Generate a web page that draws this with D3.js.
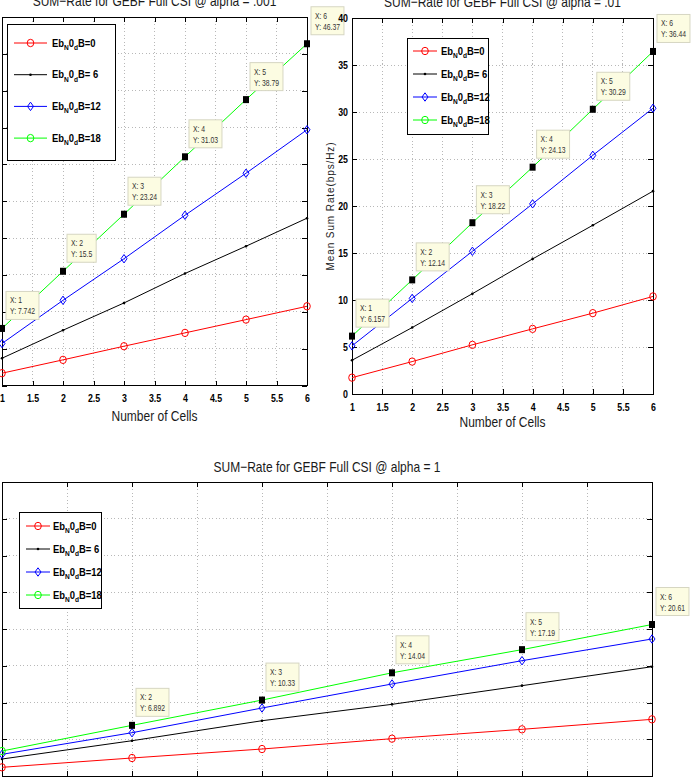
<!DOCTYPE html>
<html>
<head>
<meta charset="utf-8">
<script src="https://cdn.jsdelivr.net/npm/d3@7"></script>
<style>
  body{margin:0;background:#fff;}
  svg{display:block;}
  text{font-family:'Liberation Sans',Arial,sans-serif;}
  .grid{stroke:#b8b8b8;stroke-width:1;stroke-dasharray:1,2.5;shape-rendering:crispEdges;}
  .ax .domain{display:none;}
  .ax line{stroke:#000;shape-rendering:crispEdges;}
  .ax text{font-family:'Liberation Sans',Arial,sans-serif;font-weight:bold;font-size:11px;fill:#000;}
</style>
</head>
<body>
<svg id="fig" width="692" height="777"></svg>
<script>
/* ----- data ---------------------------------------------------- */
const cells   = [1,2,3,4,5,6];
const ebLabel = ['B=0','B= 6','B=12','B=18'];   // tail of "Eb_N0_dB=.."

// alpha = .001
const a001_0  = [1.67, 3.48, 5.33, 7.14, 8.94, 10.75];
const a001_6  = [3.70, 7.50, 11.2, 15.2, 18.9, 22.7];
const a001_12 = [5.70, 11.56, 17.2, 23.1, 28.8, 34.7];
const a001_18 = [7.742, 15.5, 23.24, 31.03, 38.79, 46.37];

// alpha = .01
const a01_0   = [1.74, 3.45, 5.23, 6.93, 8.60, 10.38];
const a01_6   = [3.59, 7.07, 10.67, 14.37, 17.95, 21.58];
const a01_12  = [5.12, 10.17, 15.18, 20.23, 25.39, 30.40];
const a01_18  = [6.157, 12.14, 18.22, 24.13, 30.29, 36.44];

// alpha = 1
const a1_0    = [1.18, 2.45, 3.67, 5.08, 6.35, 7.71];
const a1_6    = [2.31, 4.80, 7.52, 9.75, 12.29, 14.87];
const a1_12   = [2.95, 5.89, 9.25, 12.52, 15.69, 18.64];
const a1_18   = [3.40, 6.892, 10.33, 14.04, 17.19, 20.61];

// which points of the Eb=18 curve carry a data tip
const tips001 = [1,2,3,4,5,6];
const tips01  = [1,2,3,4,5,6];
const tips1   = [2,3,4,5,6];

/* ----- styles -------------------------------------------------- */
const colours = ['#ff0000','#000000','#0000ff','#00ff00'];
const marks   = ['circle','dot','diamond','circle'];
const NARROW  = 0.8;   // squeeze Liberation Sans into a narrow face

const svg = d3.select('#fig');

function condense(sel, f=NARROW){
  sel.each(function(){
    const L = this.getComputedTextLength();
    if(L>0){
      this.setAttribute('textLength', L*f);
      this.setAttribute('lengthAdjust','spacingAndGlyphs');
    }
  });
  return sel;
}

function marker(sel, kind, col){
  if(kind==='circle')
    sel.append('ellipse').attr('rx',3.3).attr('ry',3.7)
       .attr('fill','none').attr('stroke',col).attr('stroke-width',1);
  else if(kind==='dot')
    sel.append('circle').attr('r',1.3).attr('fill',col);
  else
    sel.append('path').attr('d','M0,-4.2L3,0L0,4.2L-3,0Z')
       .attr('fill','none').attr('stroke',col).attr('stroke-width',1);
}

function legendText(t, tail){
  t.append('tspan').text('Eb');
  t.append('tspan').attr('dy',3.5).attr('font-size','8px').text('N');
  t.append('tspan').attr('dy',-3.5).text('0');
  t.append('tspan').attr('dy',3.5).attr('font-size','8px').text('d');
  t.append('tspan').attr('dy',-3.5).text(tail);
}

/* ----- one subplot --------------------------------------------- */
function panel(p){
  const g = svg.append('g');
  const x = d3.scaleLinear().domain([1,6]).range([p.left,p.right]);
  const y = d3.scaleLinear().domain([0,p.ymax]).range([p.bottom,p.top]);
  const xt = d3.range(1,6.01,0.5),
        yt = d3.range(0,p.ymax+0.1,5);

  g.append('rect').attr('x',p.left).attr('y',p.top)
   .attr('width',p.right-p.left).attr('height',p.bottom-p.top).attr('fill','#fff');

  /* grid */
  g.append('g').selectAll('line').data(xt.slice(1,-1)).join('line')
   .attr('class','grid').attr('x1',x).attr('x2',x).attr('y1',p.top).attr('y2',p.bottom);
  g.append('g').selectAll('line').data(yt.slice(1,-1)).join('line')
   .attr('class','grid').attr('y1',y).attr('y2',y).attr('x1',p.left).attr('x2',p.right);

  /* axes, ticks inward on all four sides */
  const fmt = d3.format('~g');
  const xb = g.append('g').attr('class','ax').attr('transform',`translate(0,${p.bottom})`)
   .call(d3.axisBottom(x).tickValues(xt).tickSize(-5).tickPadding(9).tickFormat(fmt));
  g.append('g').attr('class','ax').attr('transform',`translate(0,${p.top})`)
   .call(d3.axisTop(x).tickValues(xt).tickSize(-5).tickFormat(''));
  const yl = g.append('g').attr('class','ax').attr('transform',`translate(${p.left},0)`)
   .call(d3.axisLeft(y).tickValues(yt).tickSize(-5).tickPadding(4).tickFormat(fmt));
  g.append('g').attr('class','ax').attr('transform',`translate(${p.right},0)`)
   .call(d3.axisRight(y).tickValues(yt).tickSize(-5).tickFormat(''));
  condense(xb.selectAll('text'));
  condense(yl.selectAll('text'));

  g.append('rect').attr('x',p.left).attr('y',p.top)
   .attr('width',p.right-p.left).attr('height',p.bottom-p.top)
   .attr('fill','none').attr('stroke','#000').attr('shape-rendering','crispEdges');

  /* labels */
  condense(g.append('text').attr('x',(p.left+p.right)/2).attr('y',p.titleY)
   .attr('text-anchor','middle').attr('font-size','15px').attr('fill','#1a1a1a').text(p.title));
  condense(g.append('text').attr('x',(p.left+p.right)/2).attr('y',p.bottom+p.xlabOff)
   .attr('text-anchor','middle').attr('font-size','15px').attr('fill','#1a1a1a').text('Number of Cells'));
  if(p.ylabel){
    const cy = (p.top+p.bottom)/2;
    g.append('text').attr('transform',`translate(${p.left-18},${cy}) rotate(-90)`)
     .attr('text-anchor','middle')
     .attr('font-size','10px').attr('letter-spacing','0.9px').attr('fill','#222').text(p.ylabel);
  }

  /* curves */
  const line = d3.line().x((d,i)=>x(cells[i])).y(d=>y(d));
  p.series.forEach((s,k)=>{
    g.append('path').datum(s).attr('d',line)
     .attr('fill','none').attr('stroke',colours[k]).attr('stroke-width',1);
    s.forEach((v,i)=>{
      if(k===3 && p.tips.includes(cells[i])) return;
      marker(g.append('g').attr('transform',`translate(${x(cells[i])},${y(v)})`), marks[k], colours[k]);
    });
  });

  /* legend */
  const L = p.legend;
  const lg = g.append('g').attr('transform',`translate(${L.x},${L.y})`);
  lg.append('rect').attr('width',L.w).attr('height',L.h).attr('fill','#fff')
    .attr('stroke','#000').attr('shape-rendering','crispEdges');
  ebLabel.forEach((lab,k)=>{
    const ry = L.first + k*L.gap;
    lg.append('line').attr('x1',L.l0).attr('x2',L.l1).attr('y1',ry).attr('y2',ry)
      .attr('stroke',colours[k]);
    marker(lg.append('g').attr('transform',`translate(${(L.l0+L.l1)/2},${ry})`), marks[k], colours[k]);
    const t = lg.append('text').attr('x',L.tx).attr('y',ry+3.5)
      .attr('font-size','11.5px').attr('font-weight','bold').attr('fill','#000');
    legendText(t, lab);
    condense(t, 0.82);
  });

  /* data tips */
  const s18 = p.series[3];
  p.tips.forEach(c=>{
    const i = cells.indexOf(c), px = x(c), py = y(s18[i]);
    const tg = g.append('g');
    const top = py - 9 - 28, left = px + 4;
    const box = tg.append('rect').attr('x',left).attr('y',top).attr('height',28)
      .attr('fill','#fcfce2').attr('stroke','#d6d6c2');
    const t1 = tg.append('text').attr('x',left+4).attr('y',top+12)
      .attr('font-size','8.5px').attr('fill','#333').text('X: '+c);
    const t2 = tg.append('text').attr('x',left+4).attr('y',top+23)
      .attr('font-size','8.5px').attr('fill','#333').text('Y: '+s18[i]);
    const w = Math.max(t1.node().getComputedTextLength(), t2.node().getComputedTextLength())*NARROW;
    condense(t1); condense(t2);
    box.attr('width', w+8);
    tg.append('rect').attr('x',px-3).attr('y',py-3.5).attr('width',6).attr('height',7).attr('fill','#000');
  });
}

panel({left:2, right:307, top:17, bottom:385.5, ymax:50,
       title:'SUM\u2212Rate for GEBF Full CSI @ alpha = .001', titleY:6, xlabOff:35,
       series:[a001_0,a001_6,a001_12,a001_18], tips:tips001,
       legend:{x:7,y:24,w:108,h:136,first:19,gap:31.7,l0:7,l1:40,tx:45}});

panel({left:352, right:653, top:18, bottom:394, ymax:40,
       title:'SUM\u2212Rate for GEBF Full CSI @ alpha = .01', titleY:7, xlabOff:33,
       ylabel:'Mean Sum Rate(bps/Hz)',
       series:[a01_0,a01_6,a01_12,a01_18], tips:tips01,
       legend:{x:407,y:38,w:81,h:96,first:13,gap:23,l0:6,l1:30,tx:34}});

panel({left:2, right:652, top:482, bottom:776, ymax:40,
       title:'SUM\u2212Rate for GEBF Full CSI @ alpha = 1', titleY:472, xlabOff:35,
       series:[a1_0,a1_6,a1_12,a1_18], tips:tips1,
       legend:{x:19,y:512,w:82,h:96,first:14,gap:23,l0:7,l1:31,tx:34}});
</script>
</body>
</html>
